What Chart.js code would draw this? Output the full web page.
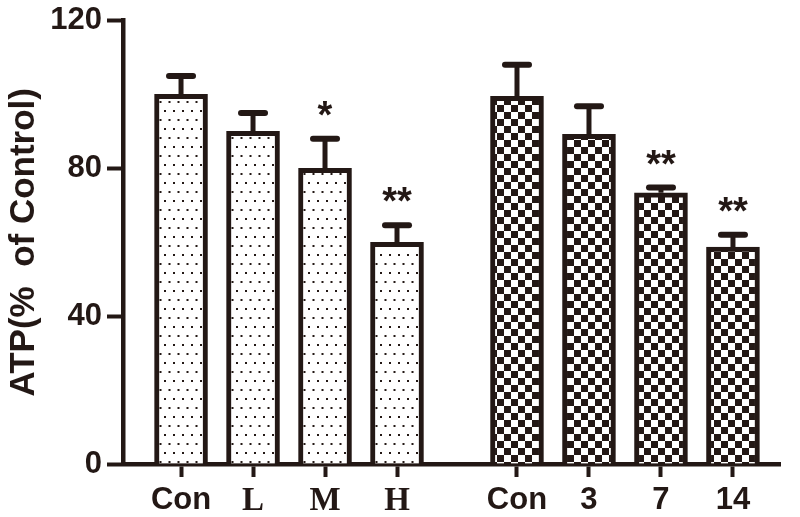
<!DOCTYPE html>
<html>
<head>
<meta charset="utf-8">
<script src="https://cdn.jsdelivr.net/npm/chart.js@4.4.1/dist/chart.umd.min.js"></script>
<style>
  html, body { margin: 0; background: #fff; }
</style>
</head>
<body>
<canvas id="chart" width="800" height="517"></canvas>
<script>
// dose groups (dotted bars)
const doseLabels = ['Con', 'L', 'M', 'H'];
const doseMeans = [100, 90, 80, 60];
const doseErrors = [5, 5, 8, 4.6];
const doseMarks = ['', '', '*', '**'];

// time groups (checkered bars)
const dayLabels = ['Con', '3', '7', '14'];
const dayMeans = [99.5, 89.2, 73.4, 58.7];
const dayErrors = [8.5, 7.6, 1.4, 3.3];
const dayMarks = ['', '', '**', '**'];

const yTicks = [0, 40, 80, 120];

const INK = '#231815';
const GROUP_GAP = 2 / 3;          // extra room between the two groups
const SERIF_LABELS = ['L', 'M', 'H'];

const labels = doseLabels.concat(dayLabels);
const means = doseMeans.concat(dayMeans);
const errors = doseErrors.concat(dayErrors);
const marks = doseMarks.concat(dayMarks);
const xs = labels.map((_, i) => i + (i >= doseLabels.length ? GROUP_GAP : 0));

function dotPattern() {
    const c = document.createElement('canvas');
    c.width = 18; c.height = 18;
    const g = c.getContext('2d');
    g.fillStyle = '#fff';
    g.fillRect(0, 0, 18, 18);
    g.fillStyle = INK;
    [[2, 2], [11, 2], [6.5, 11], [15.5, 11]].forEach(([x, y]) => g.fillRect(x, y, 2, 2));
    return g.createPattern(c, 'repeat');
}

function checkerPattern() {
    const c = document.createElement('canvas');
    c.width = 14; c.height = 14;
    const g = c.getContext('2d');
    g.fillStyle = '#fff';
    g.fillRect(0, 0, 14, 14);
    g.fillStyle = INK;
    g.fillRect(0, 0, 7, 7);
    g.fillRect(7, 7, 7, 7);
    return g.createPattern(c, 'repeat');
}

const dots = dotPattern();
const checks = checkerPattern();

// error bars + significance stars
const errorBars = {
    id: 'errorBars',
    afterDatasetsDraw(chart) {
        const { ctx, scales: { x, y } } = chart;
        ctx.save();
        ctx.strokeStyle = INK;
        ctx.fillStyle = INK;
        means.forEach((m, i) => {
            const px = x.getPixelForValue(xs[i]);
            const yTop = y.getPixelForValue(m);
            const yErr = y.getPixelForValue(m + errors[i]);
            ctx.lineWidth = 5;
            ctx.lineCap = 'butt';
            ctx.beginPath();
            ctx.moveTo(px, yTop);
            ctx.lineTo(px, yErr);
            ctx.stroke();
            ctx.lineWidth = 6;
            ctx.lineCap = 'round';
            ctx.beginPath();
            ctx.moveTo(px - 12, yErr);
            ctx.lineTo(px + 12, yErr);
            ctx.stroke();
            if (marks[i]) {
                ctx.font = 'bold 38px "Liberation Sans", Arial, sans-serif';
                ctx.textAlign = 'center';
                ctx.textBaseline = 'alphabetic';
                ctx.fillText(marks[i], px, yErr - 11);
            }
        });
        ctx.restore();
    }
};

new Chart(document.getElementById('chart'), {
    type: 'bar',
    data: {
        datasets: [{
            data: xs.map((x, i) => ({ x: x, y: means[i] })),
            backgroundColor: labels.map((_, i) => i < doseLabels.length ? dots : checks),
            borderColor: INK,
            borderWidth: 5,
            borderSkipped: 'start',
            barThickness: 53
        }]
    },
    options: {
        responsive: false,
        animation: false,
        devicePixelRatio: 1,
        layout: { padding: { top: 15, right: 20, left: 0, bottom: 0 } },
        plugins: {
            legend: { display: false },
            tooltip: { enabled: false }
        },
        scales: {
            x: {
                type: 'linear',
                offset: false,
                min: -0.806,
                max: 8.32,
                afterBuildTicks: s => { s.ticks = xs.map(v => ({ value: v })); },
                afterFit: s => { s.height = 53; },
                border: { color: INK, width: 4.5 },
                grid: { offset: false, drawOnChartArea: false, tickLength: 13, tickWidth: 4, tickColor: INK },
                ticks: {
                    autoSkip: false,
                    maxRotation: 0,
                    color: INK,
                    padding: 5,
                    callback: (v, i) => labels[i],
                    font: c => SERIF_LABELS.includes(labels[c.index])
                        ? { family: '"Liberation Serif", "Times New Roman", serif', size: 33, weight: 'bold' }
                        : { family: '"Liberation Sans", Arial, sans-serif', size: 31, weight: 'bold' }
                }
            },
            y: {
                min: 0,
                max: 120,
                afterBuildTicks: s => { s.ticks = yTicks.map(v => ({ value: v })); },
                afterFit: s => { s.width = 123; },
                border: { color: INK, width: 4.5 },
                grid: { drawOnChartArea: false, tickLength: 16, tickWidth: 4, tickColor: INK },
                ticks: {
                    color: INK,
                    padding: 5,
                    font: { family: '"Liberation Sans", Arial, sans-serif', size: 31, weight: 'bold', lineHeight: 1 }
                },
                title: {
                    display: true,
                    text: 'ATP(%  of Control)',
                    color: INK,
                    padding: { top: 3, bottom: 0 },
                    font: { family: '"Liberation Sans", Arial, sans-serif', size: 35, weight: 'bold' }
                }
            }
        }
    },
    plugins: [errorBars]
});
</script>
</body>
</html>
